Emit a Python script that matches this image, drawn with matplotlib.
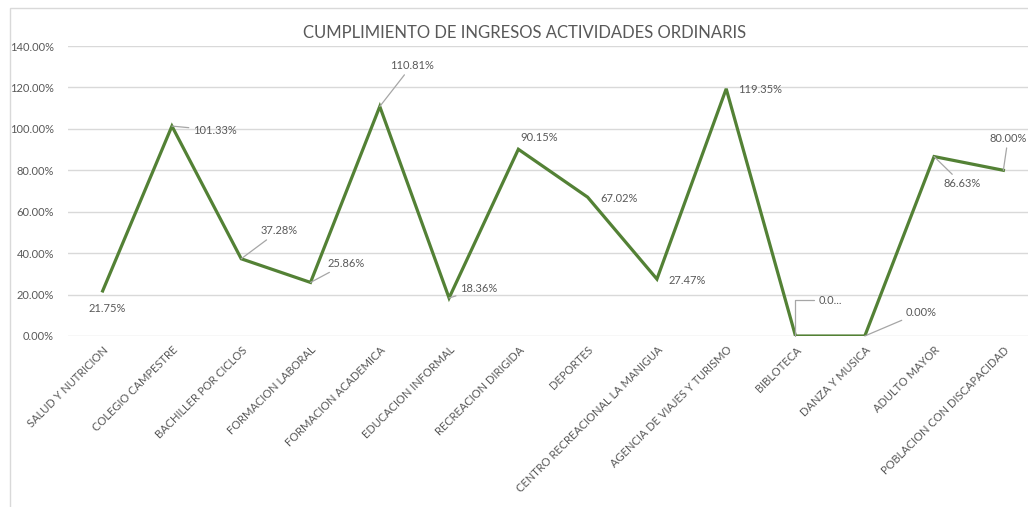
import matplotlib
matplotlib.use("Agg")
import matplotlib.pyplot as plt
from matplotlib.patches import Rectangle
from matplotlib.ticker import MultipleLocator, FuncFormatter

plt.rcParams['font.family'] = ['Lato', 'DejaVu Sans']

# data
categories = ["SALUD Y NUTRICION", "COLEGIO CAMPESTRE", "BACHILLER POR CICLOS",
              "FORMACION LABORAL", "FORMACION ACADEMICA", "EDUCACION INFORMAL",
              "RECREACION DIRIGIDA", "DEPORTES", "CENTRO RECREACIONAL LA MANIGUA",
              "AGENCIA DE VIAJES Y TURISMO", "BIBLOTECA", "DANZA Y MUSICA",
              "ADULTO MAYOR", "POBLACION CON DISCAPACIDAD"]
cumplimiento = [21.75, 101.33, 37.28, 25.86, 110.81, 18.36, 90.15,
                67.02, 27.47, 119.35, 0.0, 0.0, 86.63, 80.00]
point_labels = ["21.75%", "101.33%", "37.28%", "25.86%", "110.81%", "18.36%", "90.15%",
                "67.02%", "27.47%", "119.35%", "0.0...", "0.00%", "86.63%", "80.00%"]

# label offsets in pixels (left edge / vertical centre of the text) and leader flags
label_offsets = [(-14, -18), (21, -4), (19, 28), (17, 19), (10, 41), (11, 9), (2, 12),
                 (13, -1), (12, -1), (12, -1), (23, 36), (41, 24), (9, -27), (-14, 32)]
has_leader = [False, True, True, True, True, True, False,
              False, False, False, True, True, True, True]

text_col = '#595959'
line_col = '#538135'

fig = plt.figure(figsize=(10.28, 5.07), dpi=100)
# chart frame, cut off on the right like the screenshot
fig.patches.append(Rectangle((10 / 1028, -0.05), 1.1, 1 - 8 / 507 + 0.05, transform=fig.transFigure,
                             fill=False, edgecolor='#d9d9d9', linewidth=1))
ax = fig.add_axes([68 / 1028, 171 / 507, 970 / 1028, 290 / 507])

x = list(range(len(categories)))
ax.plot(x, cumplimiento, color=line_col, linewidth=2.3, solid_joinstyle='miter', zorder=3)

for i, (val, lab) in enumerate(zip(cumplimiento, point_labels)):
    dx, dy = label_offsets[i]
    props = dict(arrowstyle='-', color='#a6a6a6', lw=0.9, shrinkA=1, shrinkB=0)
    if i == 10:
        props['connectionstyle'] = 'angle,angleA=0,angleB=90,rad=0'
    ax.annotate(lab, xy=(i, val), xytext=(dx, dy), textcoords='offset pixels',
                ha='left', va='center', fontsize=8, color=text_col,
                arrowprops=props if has_leader[i] else None, annotation_clip=False)

ax.set_xlim(-0.5, len(categories) - 0.5)
ax.set_ylim(0, 140)
ax.yaxis.set_major_locator(MultipleLocator(20))
ax.yaxis.set_major_formatter(FuncFormatter(lambda v, p: '%.2f%%' % v))
ax.grid(axis='y', color='#d9d9d9', linewidth=1)
ax.set_axisbelow(True)
for s in ax.spines.values():
    s.set_visible(False)
ax.tick_params(axis='both', length=0, labelcolor=text_col, labelsize=8)
ax.tick_params(axis='y', pad=10)
ax.tick_params(axis='x', pad=6)
ax.set_xticks(x)
ax.set_xticklabels(categories, rotation=45, ha='right', va='top', rotation_mode='anchor', fontsize=8)

fig.text(525 / 1028, 1 - 33 / 507, "CUMPLIMIENTO DE INGRESOS ACTIVIDADES ORDINARIS",
         ha='center', va='center', fontsize=12, color=text_col)

fig.savefig('out.png', dpi=100, facecolor='white')
